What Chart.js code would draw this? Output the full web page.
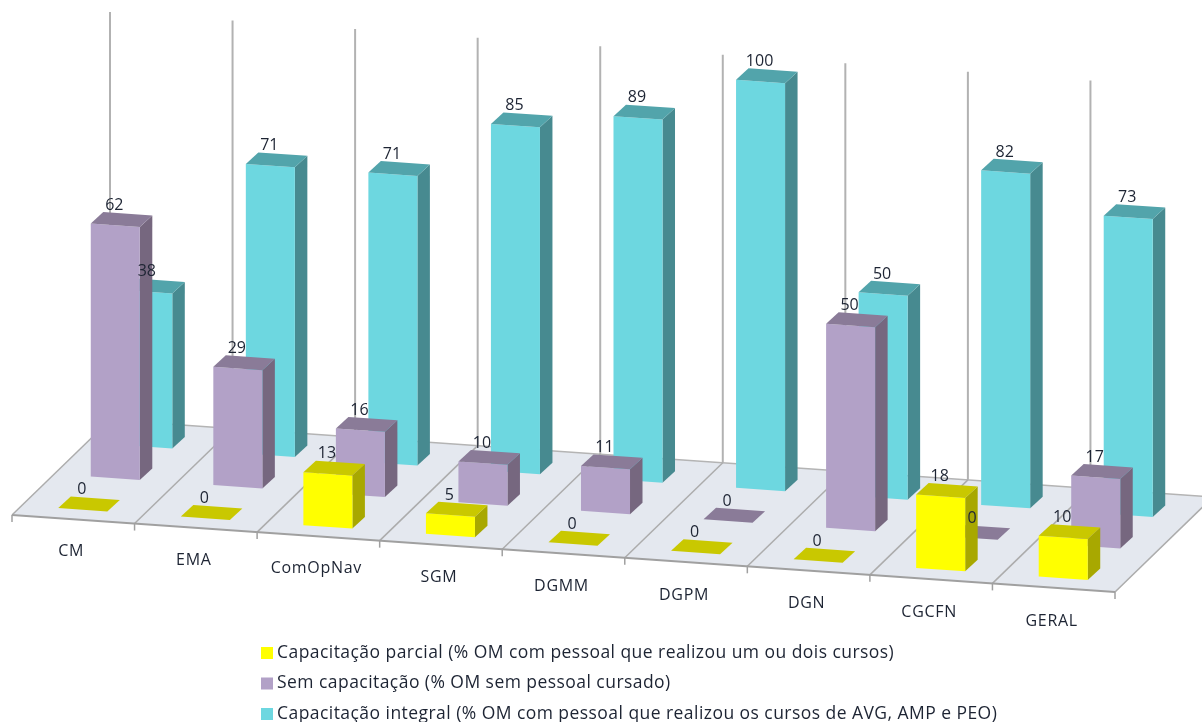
<!DOCTYPE html>
<html>
<head>
<meta charset="utf-8">
<style>
  html, body { margin: 0; background: #fff; }
  canvas { display: block; }
</style>
<script src="https://cdn.jsdelivr.net/npm/chart.js@4"></script>
</head>
<body>
<canvas id="graficoCapacitacao" width="1202" height="722"></canvas>
<script>
// Dados do gráfico
var categorias = ['CM', 'EMA', 'ComOpNav', 'SGM', 'DGMM', 'DGPM', 'DGN', 'CGCFN', 'GERAL'];
var capacitacaoParcial = [0, 0, 13, 5, 0, 0, 0, 18, 10];
var semCapacitacao = [62, 29, 16, 10, 11, 0, 50, 0, 17];
var capacitacaoIntegral = [38, 71, 71, 85, 89, 100, 50, 82, 73];

var rotuloParcial = 'Capacitação parcial (% OM com pessoal que realizou um ou dois cursos)';
var rotuloSem = 'Sem capacitação (% OM sem pessoal cursado)';
var rotuloIntegral = 'Capacitação integral (% OM com pessoal que realizou os cursos de AVG, AMP e PEO)';

// Cores de cada face: frente, lado, topo
var coresParcial = ['#ffff00', '#a8a800', '#c9c800'];
var coresSem = ['#b2a1c7', '#76677f', '#8a7b98'];
var coresIntegral = ['#6dd7e0', '#478a90', '#52a4ab'];

// Projeção oblíqua do piso
var INCLINACAO = 8.55 / 122.55;
var FUNDO = { x: 98, y: -95 };
var FILA = { x: 32.5, y: -31.5 };
var FILA_INICIAL = { x: 9.5, y: -9.5 };
var PROF_BARRA = { x: 12.5, y: -11.5 };
var MEIA_LARGURA = 0.2;

function poligono(ctx, pts, cor) {
  ctx.beginPath();
  pts.forEach(function (p, i) { i ? ctx.lineTo(p[0], p[1]) : ctx.moveTo(p[0], p[1]); });
  ctx.closePath();
  ctx.fillStyle = cor;
  ctx.fill();
}

function linha(ctx, x0, y0, x1, y1, cor, largura) {
  ctx.beginPath();
  ctx.moveTo(x0, y0);
  ctx.lineTo(x1, y1);
  ctx.strokeStyle = cor;
  ctx.lineWidth = largura;
  ctx.stroke();
}

const barras3d = {
  id: 'barras3d',
  // as barras planas do Chart.js dão lugar às caixas desenhadas abaixo
  beforeDatasetDraw: function () { return false; },
  afterDatasetsDraw: function (chart) {
    var ctx = chart.ctx, x = chart.scales.x, y = chart.scales.y;
    var y0 = function (px) { return y.getPixelForValue(0) + (px - x.left) * INCLINACAO; };
    var n = categorias.length;

    // piso
    var xe = x.left, xd = x.right;
    poligono(ctx, [[xe, y0(xe)], [xd, y0(xd)], [xd + FUNDO.x, y0(xd) + FUNDO.y], [xe + FUNDO.x, y0(xe) + FUNDO.y]], '#e4e8ef');
    linha(ctx, xe + FUNDO.x, y0(xe) + FUNDO.y, xd + FUNDO.x, y0(xd) + FUNDO.y, '#b4b4b4', 1.5);

    // linhas do fundo, divisões do piso e marcas do eixo
    for (var j = 0; j <= n; j++) {
      var bx = x.getPixelForValue(j - 0.5), by = y0(bx);
      var alto = y.getPixelForValue(100) - y.getPixelForValue(0);
      linha(ctx, bx + FUNDO.x, by + FUNDO.y, bx + FUNDO.x, by + FUNDO.y + alto, '#b2b2b2', 2);
      linha(ctx, bx, by, bx + FUNDO.x, by + FUNDO.y, '#acacac', 1.5);
      linha(ctx, bx, by, bx, by + 7, '#a0a0a0', 1.5);
    }
    linha(ctx, xe, y0(xe), xd, y0(xd), '#a0a0a0', 2);

    // caixas, da fila de trás para a da frente
    var rotulos = [];
    for (var d = chart.data.datasets.length - 1; d >= 0; d--) {
      var ds = chart.data.datasets[d];
      var ox = FILA_INICIAL.x + FILA.x * d, oy = FILA_INICIAL.y + FILA.y * d;
      ds.data.forEach(function (v, i) {
        var xa = x.getPixelForValue(i - MEIA_LARGURA), xb = x.getPixelForValue(i + MEIA_LARGURA);
        var altura = y.getPixelForValue(0) - y.getPixelForValue(v);
        var fa = [xa + ox, y0(xa) + oy], fb = [xb + ox, y0(xb) + oy];
        var ta = [fa[0], fa[1] - altura], tb = [fb[0], fb[1] - altura];
        var px = PROF_BARRA.x, py = PROF_BARRA.y;
        if (v > 0) {
          poligono(ctx, [fb, [fb[0] + px, fb[1] + py], [tb[0] + px, tb[1] + py], tb], ds.coresFaces[1]);
          poligono(ctx, [fa, fb, tb, ta], ds.coresFaces[0]);
        }
        poligono(ctx, [ta, tb, [tb[0] + px, tb[1] + py], [ta[0] + px, ta[1] + py]], ds.coresFaces[2]);
        rotulos.push([String(v), (ta[0] + tb[0]) / 2 - 1, (ta[1] + tb[1]) / 2 - 20]);
      });
    }

    // valores sobre as caixas
    ctx.font = '16px "Open Sans"';
    ctx.fillStyle = '#1d2433';
    ctx.textAlign = 'center';
    ctx.textBaseline = 'middle';
    rotulos.forEach(function (r) { ctx.fillText(r[0], r[1], r[2]); });

    // nomes das categorias
    ctx.font = '16px "Open Sans"';
    ctx.letterSpacing = '0.7px';
    categorias.forEach(function (c, i) {
      var cx = x.getPixelForValue(i);
      ctx.fillText(c, cx - 2, y0(cx) + 32 + i * 0.2);
    });

    // legenda
    ctx.font = '17.5px "Open Sans"';
    ctx.letterSpacing = '0.45px';
    ctx.textAlign = 'left';
    chart.data.datasets.forEach(function (ds, i) {
      var ly = 653 + i * 30.5;
      ctx.fillStyle = ds.coresFaces[0];
      ctx.fillRect(261, ly - 6, 12, 12);
      ctx.fillStyle = '#1d2433';
      ctx.fillText(ds.label, 277, ly);
    });
    ctx.letterSpacing = '0px';
  }
};

new Chart(document.getElementById('graficoCapacitacao'), {
  type: 'bar',
  data: {
    labels: categorias,
    datasets: [
      { label: rotuloParcial, data: capacitacaoParcial, backgroundColor: coresParcial[0], coresFaces: coresParcial },
      { label: rotuloSem, data: semCapacitacao, backgroundColor: coresSem[0], coresFaces: coresSem },
      { label: rotuloIntegral, data: capacitacaoIntegral, backgroundColor: coresIntegral[0], coresFaces: coresIntegral }
    ]
  },
  options: {
    responsive: false,
    animation: false,
    layout: { padding: { left: 12, right: 87, top: 107, bottom: 207 } },
    scales: {
      x: { display: false },
      y: { display: false, min: 0, max: 100 }
    },
    plugins: {
      legend: { display: false },
      title: { display: false }
    }
  },
  plugins: [barras3d]
});
</script>
</body>
</html>
